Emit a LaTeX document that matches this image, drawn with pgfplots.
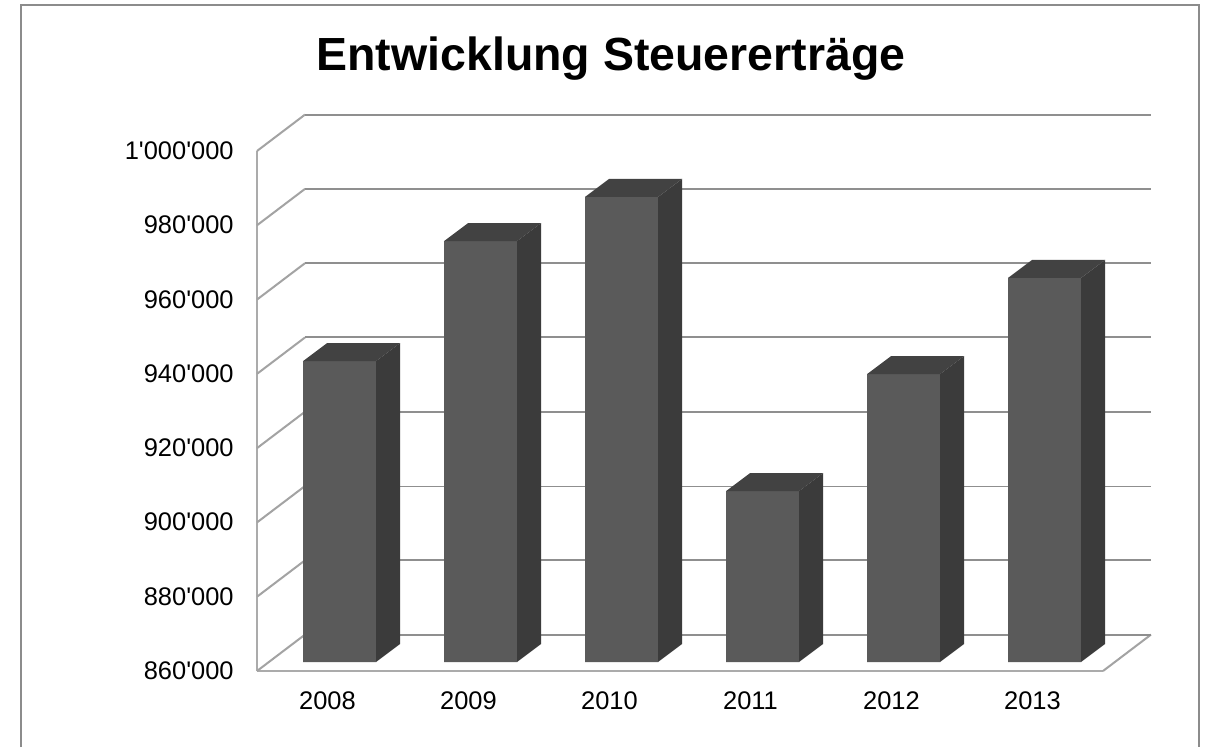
\documentclass[border=0pt]{standalone}
\usepackage{fontspec}
\setmainfont{Liberation Sans}[Ligatures=TeXOff]
\usepackage{pgfplots}
\pgfplotsset{compat=1.18}
\definecolor{gridc}{HTML}{8F8F8F}
\definecolor{diagc}{HTML}{A3A3A3}
\definecolor{axisc}{HTML}{ABABAB}
\definecolor{framec}{HTML}{8C8C8C}
\definecolor{frontc}{HTML}{5A5A5A}
\definecolor{sidec}{HTML}{3B3B3B}
\definecolor{topc}{HTML}{424242}
\begin{document}
\begin{tikzpicture}[x=0.75pt,y=-0.75pt]
\path[use as bounding box,fill=white] (0,0) rectangle (1210,747);
\draw[framec,line width=1.3pt] (21,747) -- (21,5) -- (1199,5) -- (1199,747);
\coordinate (A) at (257,671);
\coordinate (B) at (269,662);
% walls, floor, tick labels
\begin{axis}[
  at={(A)},anchor=south west,scale only axis,width=634.5pt,height=390pt,
  xmin=-0.5,xmax=5.5,ymin=860000,ymax=1000000,clip=false,
  axis x line=bottom,axis y line=left,
  axis line style={axisc,line width=1.8pt,-},
  scaled ticks=false,
  xtick={0,1,2,3,4,5},xticklabels={2008,2009,2010,2011,2012,2013},
  ytick={860000,880000,900000,920000,940000,960000,980000,1000000},
  yticklabels={860'000,880'000,900'000,920'000,940'000,960'000,980'000,1'000'000},
  major tick length=0pt,
  tick label style={font=\fontsize{19.1}{22}\selectfont,text=black},
  yticklabel style={xshift=-14pt,yshift=0.2pt},
  xticklabel style={yshift=-11.8pt},
  title={\textbf{Entwicklung Steuererträge}},
  title style={font=\fontsize{34.85}{40}\selectfont,at={(axis description cs:0.4184,1.1615)},anchor=center},
]
\addplot[diagc,line width=1.5pt] coordinates {(-0.5,860000)(-0.1596,869800)};
\addplot[diagc,line width=1.5pt] coordinates {(-0.5,880000)(-0.1596,889800)};
\addplot[diagc,line width=1.5pt] coordinates {(-0.5,900000)(-0.1596,909800)};
\addplot[diagc,line width=1.5pt] coordinates {(-0.5,920000)(-0.1596,929800)};
\addplot[diagc,line width=1.5pt] coordinates {(-0.5,940000)(-0.1596,949800)};
\addplot[diagc,line width=1.5pt] coordinates {(-0.5,960000)(-0.1596,969800)};
\addplot[diagc,line width=1.5pt] coordinates {(-0.5,980000)(-0.1596,989800)};
\addplot[diagc,line width=1.5pt] coordinates {(-0.5,1000000)(-0.1596,1009800)};
\addplot[diagc,line width=1.5pt] coordinates {(5.5,860000)(5.8404,869800)};
\addplot[gridc,line width=1.5pt] coordinates {(-0.1596,869800)(5.8404,869800)};
\addplot[gridc,line width=1.5pt] coordinates {(-0.1596,889800)(5.8404,889800)};
\addplot[gridc,line width=0.8pt] coordinates {(-0.1596,909800)(5.8404,909800)};
\addplot[gridc,line width=1.5pt] coordinates {(-0.1596,929800)(5.8404,929800)};
\addplot[gridc,line width=1.5pt] coordinates {(-0.1596,949800)(5.8404,949800)};
\addplot[gridc,line width=1.5pt] coordinates {(-0.1596,969800)(5.8404,969800)};
\addplot[gridc,line width=1.5pt] coordinates {(-0.1596,989800)(5.8404,989800)};
\addplot[gridc,line width=1.5pt] coordinates {(-0.1596,1009800)(5.8404,1009800)};
\end{axis}
% bars, in front of the floor
\begin{axis}[
  at={(B)},anchor=south west,scale only axis,width=634.5pt,height=390pt,
  xmin=-0.5,xmax=5.5,ymin=860000,ymax=1000000,hide axis,
]
\addplot[ybar,bar width=54.75pt,bar shift=0pt,fill=frontc,draw=none] coordinates {(0,941000)(1,973300)(2,985200)(3,906000)(4,937500)(5,963400)};
% side faces
\addplot[fill=sidec,draw=none] coordinates {(0.2589,860000)(0.4291,864846)(0.4291,945846)(0.2589,941000)} -- cycle;
\addplot[fill=sidec,draw=none] coordinates {(1.2589,860000)(1.4291,864846)(1.4291,978146)(1.2589,973300)} -- cycle;
\addplot[fill=sidec,draw=none] coordinates {(2.2589,860000)(2.4291,864846)(2.4291,990046)(2.2589,985200)} -- cycle;
\addplot[fill=sidec,draw=none] coordinates {(3.2589,860000)(3.4291,864846)(3.4291,910846)(3.2589,906000)} -- cycle;
\addplot[fill=sidec,draw=none] coordinates {(4.2589,860000)(4.4291,864846)(4.4291,942346)(4.2589,937500)} -- cycle;
\addplot[fill=sidec,draw=none] coordinates {(5.2589,860000)(5.4291,864846)(5.4291,968246)(5.2589,963400)} -- cycle;
% top faces
\addplot[fill=topc,draw=none] coordinates {(-0.2589,941000)(-0.0887,945846)(0.4291,945846)(0.2589,941000)} -- cycle;
\addplot[fill=topc,draw=none] coordinates {(0.7411,973300)(0.9113,978146)(1.4291,978146)(1.2589,973300)} -- cycle;
\addplot[fill=topc,draw=none] coordinates {(1.7411,985200)(1.9113,990046)(2.4291,990046)(2.2589,985200)} -- cycle;
\addplot[fill=topc,draw=none] coordinates {(2.7411,906000)(2.9113,910846)(3.4291,910846)(3.2589,906000)} -- cycle;
\addplot[fill=topc,draw=none] coordinates {(3.7411,937500)(3.9113,942346)(4.4291,942346)(4.2589,937500)} -- cycle;
\addplot[fill=topc,draw=none] coordinates {(4.7411,963400)(4.9113,968246)(5.4291,968246)(5.2589,963400)} -- cycle;
\end{axis}
\end{tikzpicture}
\end{document}
